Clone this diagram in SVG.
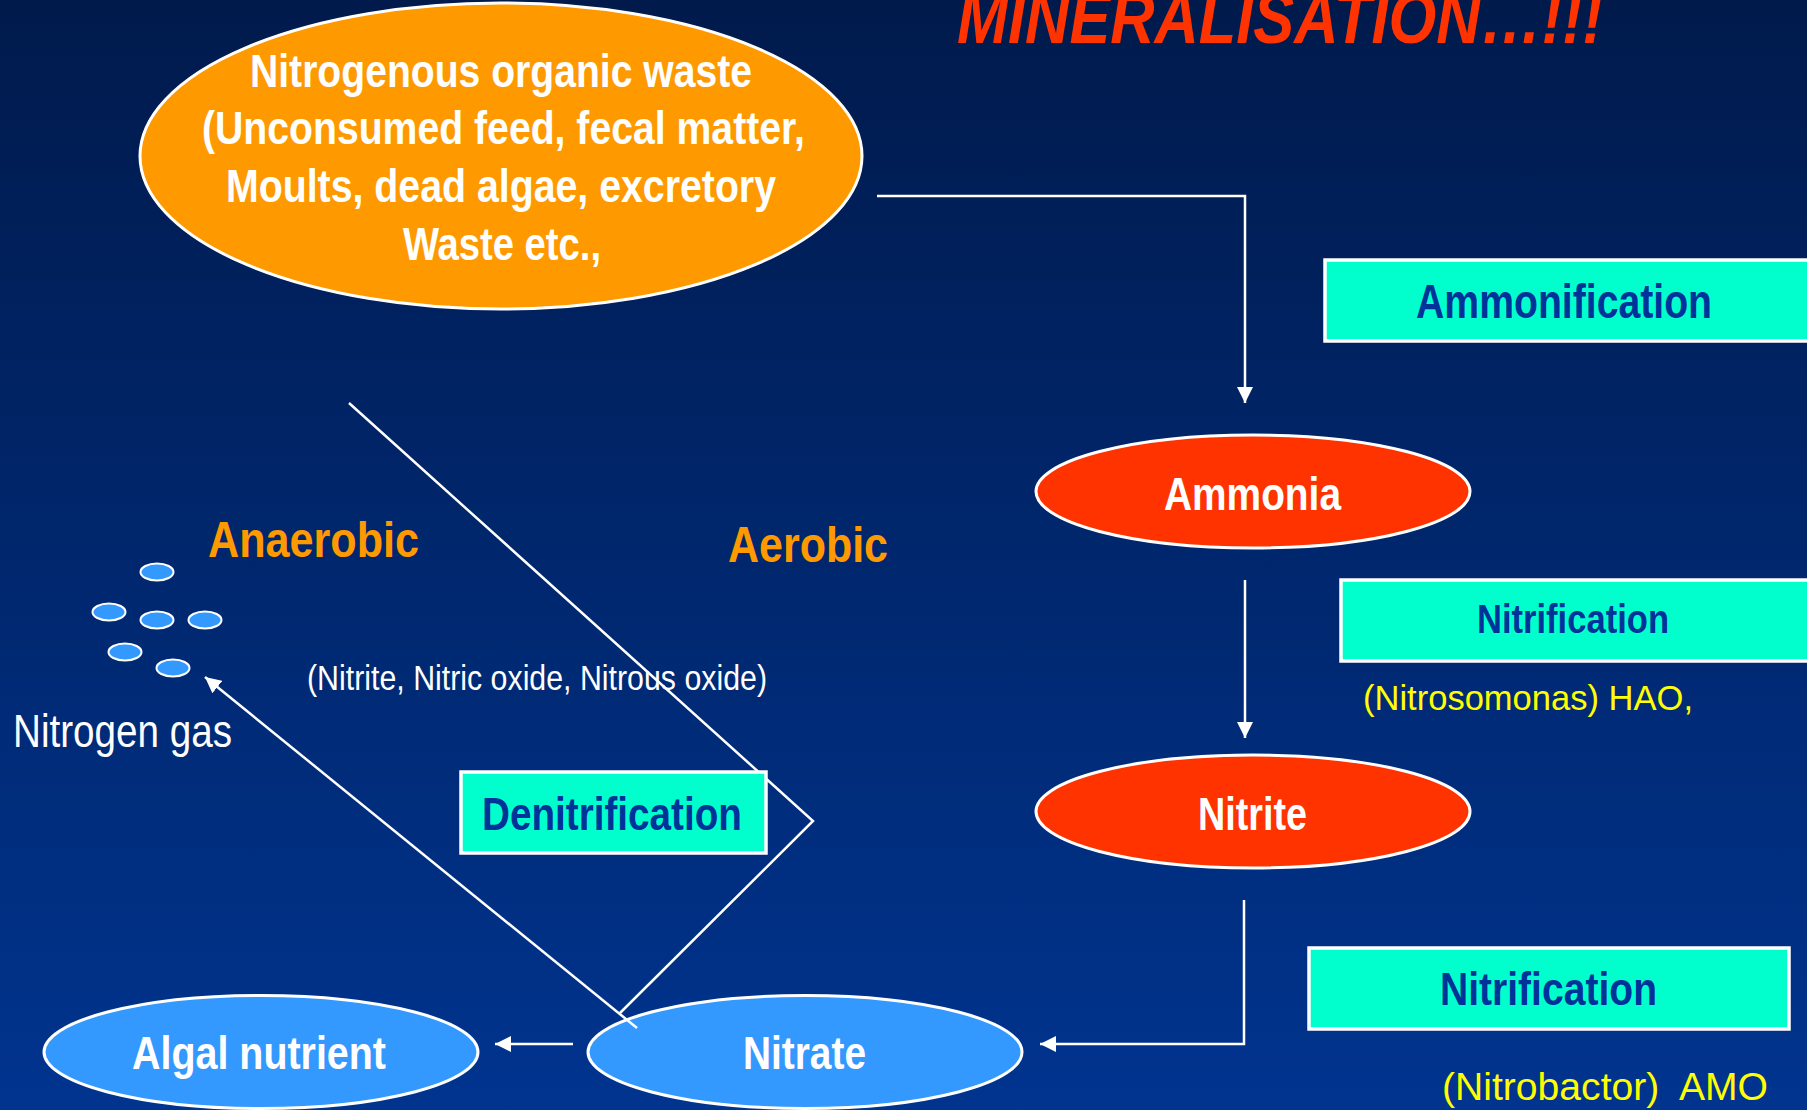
<svg xmlns="http://www.w3.org/2000/svg" width="1807" height="1110" viewBox="0 0 1807 1110">
  <defs>
    <linearGradient id="bg" x1="0" y1="0" x2="0" y2="1">
      <stop offset="0" stop-color="#001a4c"/>
      <stop offset="1" stop-color="#00348f"/>
    </linearGradient>
    <marker id="arrow" viewBox="0 0 16 16" refX="16" refY="8" markerWidth="16" markerHeight="16" markerUnits="userSpaceOnUse" orient="auto">
      <path d="M0,0 L16,8 L0,16 z" fill="#ffffff"/>
    </marker>
  </defs>
  <style>
    text { font-family: "Liberation Sans Narrow", "Liberation Sans", Arial, sans-serif; }
    .bold { font-weight: bold; }
    .white { fill: #ffffff; }
    .ellipse-org { fill: #ff9900; stroke: #ffffff; stroke-width: 3; }
    .ellipse-red { fill: #ff3300; stroke: #ffffff; stroke-width: 3; }
    .ellipse-blue { fill: #3399ff; stroke: #ffffff; stroke-width: 3; }
    .box { fill: #00ffcc; stroke: #ffffff; stroke-width: 3.5; }
    .box-text { fill: #003399; font-weight: bold; }
    .yellow { fill: #ffff00; }
    .orange { fill: #ff9900; font-weight: bold; }
    .bubble { fill: #3399ff; stroke: #ffffff; stroke-width: 2; }
    .link { fill: none; stroke: #ffffff; stroke-width: 2.5; }
  </style>

  <rect x="0" y="0" width="1807" height="1110" fill="url(#bg)"/>

  <!-- heading, runs off the top edge -->
  <text x="957" y="43" font-size="72" font-style="italic" font-weight="bold" fill="#ff3300" textLength="646" lengthAdjust="spacingAndGlyphs">MINERALISATION…!!!</text>

  <!-- organic waste source -->
  <g id="node-waste">
    <ellipse class="ellipse-org" cx="501" cy="156" rx="361" ry="153"/>
    <text class="bold white" x="250" y="87" font-size="47" textLength="502" lengthAdjust="spacingAndGlyphs">Nitrogenous organic waste</text>
    <text class="bold white" x="202" y="144" font-size="47" textLength="603" lengthAdjust="spacingAndGlyphs">(Unconsumed feed, fecal matter,</text>
    <text class="bold white" x="226" y="202" font-size="47" textLength="550" lengthAdjust="spacingAndGlyphs">Moults, dead algae, excretory</text>
    <text class="bold white" x="403" y="260" font-size="47" textLength="198" lengthAdjust="spacingAndGlyphs">Waste etc.,</text>
  </g>

  <g id="node-ammonia">
    <ellipse class="ellipse-red" cx="1253" cy="491.5" rx="217" ry="56.5"/>
    <text class="bold white" x="1164" y="510" font-size="46" textLength="177" lengthAdjust="spacingAndGlyphs">Ammonia</text>
  </g>

  <g id="node-nitrite">
    <ellipse class="ellipse-red" cx="1253" cy="811.5" rx="217" ry="56.5"/>
    <text class="bold white" x="1198" y="830" font-size="46" textLength="109" lengthAdjust="spacingAndGlyphs">Nitrite</text>
  </g>

  <g id="node-nitrate">
    <ellipse class="ellipse-blue" cx="805" cy="1052" rx="217" ry="56.5"/>
    <text class="bold white" x="743" y="1069" font-size="46" textLength="123" lengthAdjust="spacingAndGlyphs">Nitrate</text>
  </g>

  <g id="node-algal">
    <ellipse class="ellipse-blue" cx="261" cy="1052" rx="217" ry="56.5"/>
    <text class="bold white" x="132" y="1069" font-size="46" textLength="254" lengthAdjust="spacingAndGlyphs">Algal nutrient</text>
  </g>

  <g id="node-nitrogen-gas">
    <ellipse class="bubble" cx="157" cy="572" rx="16.5" ry="8.5"/>
    <ellipse class="bubble" cx="109" cy="612" rx="16.5" ry="8.5"/>
    <ellipse class="bubble" cx="157" cy="620" rx="16.5" ry="8.5"/>
    <ellipse class="bubble" cx="205" cy="620" rx="16.5" ry="8.5"/>
    <ellipse class="bubble" cx="125" cy="652" rx="16.5" ry="8.5"/>
    <ellipse class="bubble" cx="173" cy="668" rx="16.5" ry="8.5"/>
    <text class="white" x="13" y="747" font-size="46" textLength="219" lengthAdjust="spacingAndGlyphs">Nitrogen gas</text>
  </g>

  <g id="zone-labels">
    <text class="orange" x="208" y="557" font-size="50" textLength="211" lengthAdjust="spacingAndGlyphs">Anaerobic</text>
    <text class="orange" x="728" y="562" font-size="50" textLength="160" lengthAdjust="spacingAndGlyphs">Aerobic</text>
    <text class="white" x="307" y="690" font-size="35" textLength="460" lengthAdjust="spacingAndGlyphs">(Nitrite, Nitric oxide, Nitrous oxide)</text>
  </g>

  <!-- connectors (drawn over the ellipses, under the process boxes) -->
  <g id="connectors">
    <polyline class="link" points="877,196 1245,196 1245,403" stroke-width="3" marker-end="url(#arrow)"/>
    <line class="link" x1="1245" y1="580" x2="1245" y2="738" marker-end="url(#arrow)"/>
    <polyline class="link" points="1244,900 1244,1044 1040,1044" marker-end="url(#arrow)"/>
    <line class="link" x1="573" y1="1044" x2="495" y2="1044" stroke-width="3" marker-end="url(#arrow)"/>
    <polyline class="link" points="349,403 813,821 620,1013"/>
    <line class="link" x1="637" y1="1028" x2="205" y2="677" marker-end="url(#arrow)"/>
  </g>

  <g id="label-ammonification">
    <rect class="box" x="1325" y="260" width="485" height="81"/>
    <text class="box-text" x="1416" y="318" font-size="48" textLength="296" lengthAdjust="spacingAndGlyphs">Ammonification</text>
  </g>

  <g id="label-nitrification-1">
    <rect class="box" x="1341" y="580" width="469" height="81"/>
    <text class="box-text" x="1477" y="633" font-size="41" textLength="192" lengthAdjust="spacingAndGlyphs">Nitrification</text>
    <text class="yellow" x="1363" y="710" font-size="35" textLength="330" lengthAdjust="spacingAndGlyphs">(Nitrosomonas) HAO,</text>
  </g>

  <g id="label-nitrification-2">
    <rect class="box" x="1309" y="948" width="480" height="81"/>
    <text class="box-text" x="1440" y="1005" font-size="46" textLength="217" lengthAdjust="spacingAndGlyphs">Nitrification</text>
    <text class="yellow" x="1442" y="1100" font-size="38" textLength="326" lengthAdjust="spacingAndGlyphs" xml:space="preserve">(Nitrobactor)  AMO</text>
  </g>

  <g id="label-denitrification">
    <rect class="box" x="461" y="772" width="305" height="81"/>
    <text class="box-text" x="482" y="830" font-size="46" textLength="260" lengthAdjust="spacingAndGlyphs">Denitrification</text>
  </g>
</svg>
